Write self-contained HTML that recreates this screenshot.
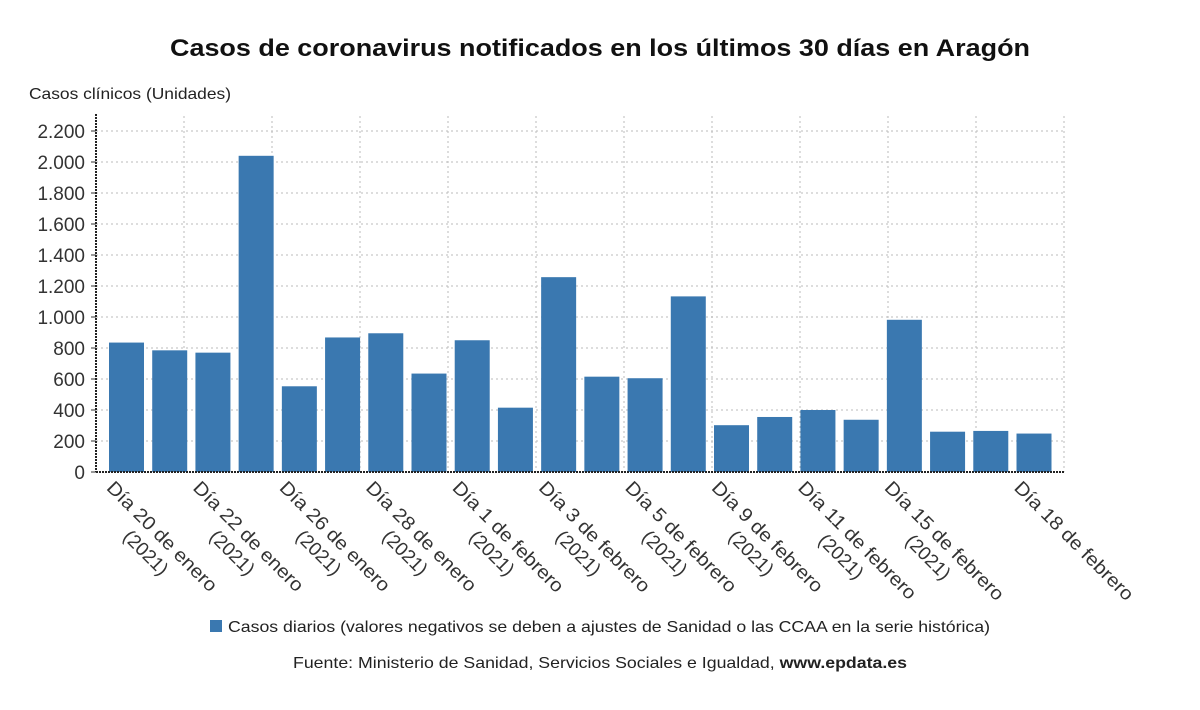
<!DOCTYPE html>
<html><head><meta charset="utf-8"><style>
body{margin:0;background:#fff;font-family:"Liberation Sans",sans-serif;}
svg text{font-family:"Liberation Sans",sans-serif;}
</style></head><body>
<svg id="c" width="1200" height="705" viewBox="0 0 1200 705">
<text x="170" y="56" textLength="860" lengthAdjust="spacingAndGlyphs" font-size="24" font-weight="bold" fill="#111">Casos de coronavirus notificados en los últimos 30 días en Aragón</text>
<text x="29" y="99" textLength="202" lengthAdjust="spacingAndGlyphs" font-size="16" fill="#222">Casos clínicos (Unidades)</text>
<g id="grid"></g><g id="bars"></g><g id="axes"></g><g id="labels"></g>
<rect x="210" y="620" width="12" height="12" fill="#3a78b0"/>
<text x="228" y="632" textLength="762" lengthAdjust="spacingAndGlyphs" font-size="16" fill="#222">Casos diarios (valores negativos se deben a ajustes de Sanidad o las CCAA en la serie histórica)</text>
<text x="293" y="668" textLength="614" lengthAdjust="spacingAndGlyphs" font-size="16" fill="#222">Fuente: Ministerio de Sanidad, Servicios Sociales e Igualdad, <tspan font-weight="bold">www.epdata.es</tspan></text>
</svg>
<script>
const categories=["Día 20 de enero (2021)","","Día 22 de enero (2021)","","Día 26 de enero (2021)","","Día 28 de enero (2021)","","Día 1 de febrero (2021)","","Día 3 de febrero (2021)","","Día 5 de febrero (2021)","","Día 9 de febrero (2021)","","Día 11 de febrero (2021)","","Día 15 de febrero (2021)","","","Día 18 de febrero"];
const values=[835,785,770,2040,553,868,895,635,850,415,1257,615,605,1133,302,355,400,337,982,260,265,248];
const yTicks=[0,200,400,600,800,1000,1200,1400,1600,1800,2000,2200];
const yTickLabels=["0","200","400","600","800","1.000","1.200","1.400","1.600","1.800","2.000","2.200"];
const NS="http://www.w3.org/2000/svg";
const X0=96,X1=1064,Y0=472,Ytop=131,YMAX=2200;
const y=v=>Y0-(v/YMAX)*(Y0-Ytop);
const first=126.5,last=1034;
const step=(last-first)/(values.length-1);
const cx=i=>first+i*step;
const bw=35;
function mk(t,a,p){const e=document.createElementNS(NS,t);for(const k in a)e.setAttribute(k,a[k]);p.appendChild(e);return e;}
const grid=document.getElementById('grid'),bars=document.getElementById('bars'),axes=document.getElementById('axes'),labels=document.getElementById('labels');
yTicks.forEach((t,i)=>{
 if(t>0){const l=mk('line',{x1:X0,x2:X1,y1:y(t),y2:y(t),stroke:'#bbb','stroke-dasharray':'2,3'},grid);
 
 }
 const tk=mk('line',{x1:X0-5,x2:X0,y1:y(t),y2:y(t),stroke:'#333'},axes);
 
 
 const tx=mk('text',{x:X0-11,y:y(t)+7,'text-anchor':'end','font-size':19,fill:'#333'},axes);
 tx.textContent=yTickLabels[i];
 
 
});
for(let k=1;k<=11;k++){const gx=X0+88*k;
 const l=mk('line',{x1:gx,x2:gx,y1:116,y2:Y0,stroke:'#bbb','stroke-dasharray':'2,3'},grid);
 
 }
values.forEach((v,i)=>{
 const r=mk('rect',{x:cx(i)-bw/2,y:y(v),width:bw,height:Y0-y(v),fill:'#3a78b0'},bars);
 
 
});
const ya=mk('line',{x1:X0,x2:X0,y1:114,y2:Y0,stroke:'#222','stroke-width':2,'stroke-dasharray':'2,1'},axes);


const xa=mk('line',{x1:X0,x2:X1,y1:Y0,y2:Y0,stroke:'#222','stroke-width':2,'stroke-dasharray':'2,1'},axes);


categories.forEach((c,i)=>{
 if(!c)return;
 const m=c.match(/^(.*?)( \(2021\))?$/);
 const g=mk('g',{transform:`translate(${cx(i)-11},${Y0+7}) rotate(45)`},labels);
 
 
 const t1=mk('text',{x:0,y:14,'font-size':19,fill:'#333'},g);t1.textContent=m[1];
 const w0=t1.getComputedTextLength();const w=w0*1.08;
 t1.setAttribute('textLength',w);t1.setAttribute('lengthAdjust','spacingAndGlyphs');
 if(m[2]){
  const t2=mk('text',{x:w/2,y:37,'text-anchor':'middle','font-size':19,fill:'#333'},g);t2.textContent='(2021)';}
});
</script>
</body></html>
